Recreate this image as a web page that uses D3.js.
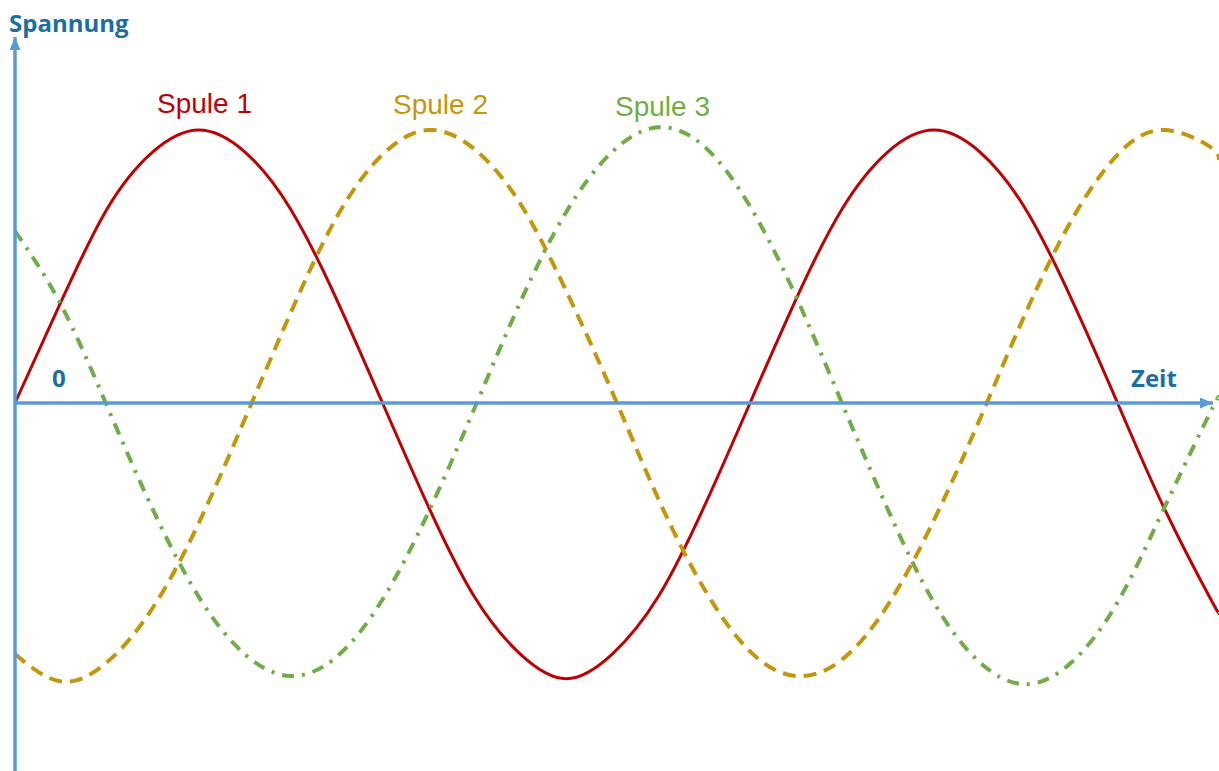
<!DOCTYPE html>
<html lang="de">
<head>
    <meta charset="UTF-8">
    <title>Spannung der drei Spulen</title>
    <script src="https://d3js.org/d3.v7.min.js"></script>
    <style>
        body {
            margin: 0;
            background-color: #ffffff;
        }
        svg {
            display: block;
        }
        .achse {
            font-family: "Open Sans", sans-serif;
            font-weight: bold;
            font-size: 24px;
            fill: #1b6ea1;
        }
        .spule {
            font-family: "Liberation Sans", Arial, sans-serif;
            font-size: 28px;
        }
    </style>
</head>
<body>

    <svg width="1219" height="771"></svg>

    <script>
        // Zeit in ms (50 Hz)
        var zeit = [0, 1.25, 2.5, 3.75, 5, 6.25, 7.5, 8.75, 10, 11.25, 12.5, 13.75, 15,
                    16.25, 17.5, 18.75, 20, 21.25, 22.5, 23.75, 25, 26.25, 27.5, 28.75,
                    30, 31.25, 32.5, 32.76];

        // normierte Spannung je Spule
        var spule1 = [0, 0.37, 0.71, 0.92, 1.0, 0.92, 0.71, 0.38, 0, -0.38, -0.71, -0.92, -1.01,
                      -0.92, -0.71, -0.38, 0, 0.38, 0.71, 0.92, 1.0, 0.92, 0.71, 0.38,
                      0, -0.38, -0.71, -0.77];
        var spule2 = [-0.92, -1.02, -0.95, -0.75, -0.44, -0.06, 0.33, 0.68, 0.91, 1.0, 0.93, 0.73, 0.41,
                      0.04, -0.35, -0.68, -0.91, -1.0, -0.94, -0.74, -0.43, -0.06, 0.33, 0.67,
                      0.91, 1.0, 0.94, 0.89];
        var spule3 = [0.63, 0.36, -0.01, -0.39, -0.71, -0.92, -1.0, -0.93, -0.72, -0.4, -0.02, 0.37, 0.7,
                      0.92, 1.01, 0.94, 0.72, 0.39, 0, -0.39, -0.73, -0.95, -1.03, -0.95,
                      -0.73, -0.39, -0.04, 0.02];

        var namen = ["Spule 1", "Spule 2", "Spule 3"];
        var farben = ["#c00000", "#c5960c", "#70ad47"];
        var striche = [null, "13,8", "12,8,3,8"];
        var breiten = [3, 4, 4];

        var width = 1219;
        var height = 771;
        var blau = "#5b9bd5";

        var x = d3.scaleLinear().domain([0, 32.76]).range([15, 1219]);
        var y = d3.scaleLinear().domain([-1, 1]).range([676, 130]);

        var svg = d3.select("svg")
                    .attr("width", width)
                    .attr("height", height);

        // Pfeilspitzen
        var defs = svg.append("defs");
        defs.append("marker")
            .attr("id", "pfeil")
            .attr("viewBox", "0 0 12 10")
            .attr("refX", 12)
            .attr("refY", 5)
            .attr("markerUnits", "userSpaceOnUse")
            .attr("markerWidth", 13)
            .attr("markerHeight", 11)
            .attr("orient", "auto")
            .append("path")
            .attr("d", "M0,0 L12,5 L0,10 Z")
            .attr("fill", blau);

        var daten = [spule1, spule2, spule3];

        var linie = d3.line()
                      .x(function(d, i) { return x(zeit[i]); })
                      .y(function(d) { return y(d); })
                      .curve(d3.curveNatural);

        // Kurven
        svg.selectAll("path.kurve")
            .data(daten)
            .enter()
            .append("path")
            .attr("class", "kurve")
            .attr("fill", "none")
            .attr("stroke", function(d, i) { return farben[i]; })
            .attr("stroke-width", function(d, i) { return breiten[i]; })
            .attr("stroke-dasharray", function(d, i) { return striche[i]; })
            .attr("d", linie);

        // Achsen
        svg.append("line")
            .attr("x1", x(0)).attr("y1", height)
            .attr("x2", x(0)).attr("y2", 37)
            .attr("stroke", blau)
            .attr("stroke-width", 3.5)
            .attr("marker-end", "url(#pfeil)");

        svg.append("line")
            .attr("x1", x(0)).attr("y1", y(0))
            .attr("x2", 1213).attr("y2", y(0))
            .attr("stroke", blau)
            .attr("stroke-width", 3.5)
            .attr("marker-end", "url(#pfeil)");

        svg.append("text").attr("class", "achse")
            .attr("x", 9).attr("y", 32).text("Spannung");
        svg.append("text").attr("class", "achse")
            .attr("x", 1131).attr("y", 387).text("Zeit");
        svg.append("text").attr("class", "achse")
            .attr("x", 52).attr("y", 387).text("0");

        // Beschriftung der Spulen
        var labelX = [157, 393, 615];
        var labelY = [113, 114, 116];
        svg.selectAll("text.spule")
            .data(namen)
            .enter()
            .append("text")
            .attr("class", "spule")
            .attr("x", function(d, i) { return labelX[i]; })
            .attr("y", function(d, i) { return labelY[i]; })
            .attr("fill", function(d, i) { return farben[i]; })
            .text(function(d) { return d; });
    </script>

</body>
</html>
